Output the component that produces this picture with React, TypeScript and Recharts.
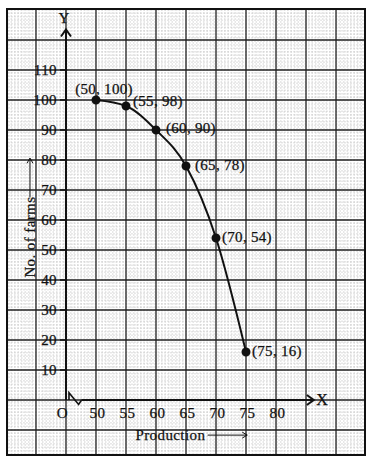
import React from 'react';
import {
  LineChart,
  Line,
  XAxis,
  YAxis,
  CartesianGrid,
  ReferenceLine,
  ReferenceDot,
  ReferenceArea,
  LabelList,
} from 'recharts';

// cumulative frequency points (production, no. of farms)
const production = [50, 55, 60, 65, 70, 75];
const farms = [100, 98, 90, 78, 54, 16];

const xTickValues = [50, 55, 60, 65, 70, 75, 80];
const yTickValues = [10, 20, 30, 40, 50, 60, 70, 80, 90, 100, 110];

// kink on the x axis (scale break)
const breakX = [45.5, 45.5, 47.1, 47.6];
const breakY = [0, 2.4, -1.5, 0];

const X_MIN = 35.17;
const X_MAX = 94.83;
const Y_MIN = -18.33;
const Y_MAX = 130.33;

const FONT = 'Liberation Serif';
const INK = '#111';

const data = production.map((p, i) => ({ x: p, y: farms[i] }));
const breakData = breakX.map((x, i) => ({ x, b: breakY[i] }));

const range = (from: number, to: number, step: number) => {
  const out: number[] = [];
  for (let v = from; v <= to + 1e-9; v += step) out.push(Math.round(v * 100) / 100);
  return out;
};
const majorX = range(40, 90, 5);
const majorY = range(-10, 120, 10);
const minorX = range(35.5, 94.5, 0.5);
const minorY = range(-18, 130, 1);

const arrow = (len: number, half: number, width: number) => (p: any) => {
  const { x1, y1, x2, y2 } = p;
  const dx = x2 - x1;
  const dy = y2 - y1;
  const l = Math.hypot(dx, dy) || 1;
  const ux = dx / l;
  const uy = dy / l;
  const bx = x2 - ux * len;
  const by = y2 - uy * len;
  const nx = -uy;
  const ny = ux;
  return (
    <g>
      <line x1={x1} y1={y1} x2={x2} y2={y2} stroke={INK} strokeWidth={width} />
      <path
        d={`M${bx + nx * half},${by + ny * half} L${x2},${y2} L${bx - nx * half},${by - ny * half}`}
        fill="none"
        stroke={INK}
        strokeWidth={width}
      />
    </g>
  );
};

const text =
  (value: string, anchor: 'start' | 'middle' | 'end' = 'middle', size = 15, rotate = 0) =>
  (p: any) => {
    const x = p.viewBox.x;
    const y = p.viewBox.y;
    return (
      <text
        x={x}
        y={y}
        textAnchor={anchor}
        dominantBaseline="central"
        fontFamily={FONT}
        fontSize={size}
        letterSpacing={0.4}
        fill={INK}
        stroke={INK}
        strokeWidth={0.25}
        transform={rotate ? `rotate(${rotate} ${x} ${y})` : undefined}
      >
        {value}
      </text>
    );
  };

const labelOffsets = [
  { dx: 8, dy: -11, anchor: 'middle' },
  { dx: 7, dy: -5, anchor: 'start' },
  { dx: 10, dy: -2, anchor: 'start' },
  { dx: 9, dy: -1, anchor: 'start' },
  { dx: 6, dy: -1, anchor: 'start' },
  { dx: 6, dy: -1, anchor: 'start' },
];

const PointLabel = (p: any) => {
  const o = labelOffsets[p.index];
  return (
    <text
      x={p.x + o.dx}
      y={p.y + o.dy}
      textAnchor={o.anchor}
      dominantBaseline="central"
      fontFamily={FONT}
      fontSize={15}
      letterSpacing={0.3}
      fill={INK}
      stroke={INK}
      strokeWidth={0.25}
    >
      {`(${production[p.index]}, ${farms[p.index]})`}
    </text>
  );
};

const dot = (x: number, y: number, render: any, key: string) => (
  <ReferenceDot key={key} x={x} y={y} r={0} fill="none" stroke="none" label={render} />
);

export default function App() {
  return (
    <div style={{ position: 'absolute', left: 0, top: 0, background: '#fff' }}>
      <LineChart width={375} height={462} margin={{ top: 9, right: 10, bottom: 7, left: 7 }}>
        <XAxis xAxisId="minor" type="number" dataKey="x" domain={[X_MIN, X_MAX]} ticks={minorX} interval={0} allowDataOverflow hide />
        <YAxis yAxisId="minor" type="number" domain={[Y_MIN, Y_MAX]} ticks={minorY} interval={0} allowDataOverflow hide />
        <XAxis type="number" dataKey="x" domain={[X_MIN, X_MAX]} ticks={majorX} interval={0} allowDataOverflow hide />
        <YAxis type="number" domain={[Y_MIN, Y_MAX]} ticks={majorY} interval={0} allowDataOverflow hide />

        <CartesianGrid xAxisId="minor" yAxisId="minor" stroke="#c4c4c4" strokeWidth={0.8} strokeDasharray="1.5 2" />
        <CartesianGrid stroke="#222" strokeWidth={1.3} />
        <ReferenceArea x1={X_MIN} x2={X_MAX} y1={Y_MIN} y2={Y_MAX} fill="none" stroke={INK} strokeWidth={2} ifOverflow="visible" />

        {/* axes */}
        <ReferenceLine segment={[{ x: 45, y: 0 }, { x: 45, y: 123.5 }]} shape={arrow(7, 5, 2)} />
        <ReferenceLine segment={[{ x: 47.6, y: 0 }, { x: 86.3, y: 0 }]} shape={arrow(7, 5, 2)} />
        {yTickValues.map((v) => (
          <ReferenceLine key={`t${v}`} segment={[{ x: 44, y: v }, { x: 45.2, y: v }]} stroke={INK} strokeWidth={1.5} />
        ))}
        <Line
          data={breakData}
          dataKey="b"
          type="linear"
          stroke={INK}
          strokeWidth={1.6}
          dot={false}
          isAnimationActive={false}
        />

        {/* axis text */}
        {yTickValues.map((v) => dot(43.5, v, text(String(v), 'end'), `y${v}`))}
        {xTickValues.map((v) => dot(v + 0.25, -4.4, text(String(v)), `x${v}`))}
        {dot(44.4, -4.4, text('O'), 'origin')}
        {dot(87.7, 0.3, text('X', 'middle', 16), 'xl')}
        {dot(44.7, 127.3, text('Y', 'middle', 15), 'yl')}
        {dot(39, 54.3, text('No. of farms', 'middle', 15, -90), 'ytitle')}
        <ReferenceLine segment={[{ x: 39, y: 67.5 }, { x: 39, y: 80.6 }]} shape={arrow(5, 3, 1)} />
        {dot(62.4, -11.7, text('Production'), 'xtitle')}
        <ReferenceLine segment={[{ x: 68.6, y: -11.7 }, { x: 75.2, y: -11.7 }]} shape={arrow(5, 3, 1)} />

        <Line
          data={data}
          dataKey="y"
          type="monotone"
          stroke={INK}
          strokeWidth={2}
          dot={{ r: 3.5, fill: INK, stroke: INK }}
          isAnimationActive={false}
        >
          <LabelList dataKey="y" content={PointLabel} />
        </Line>
      </LineChart>
    </div>
  );
}
